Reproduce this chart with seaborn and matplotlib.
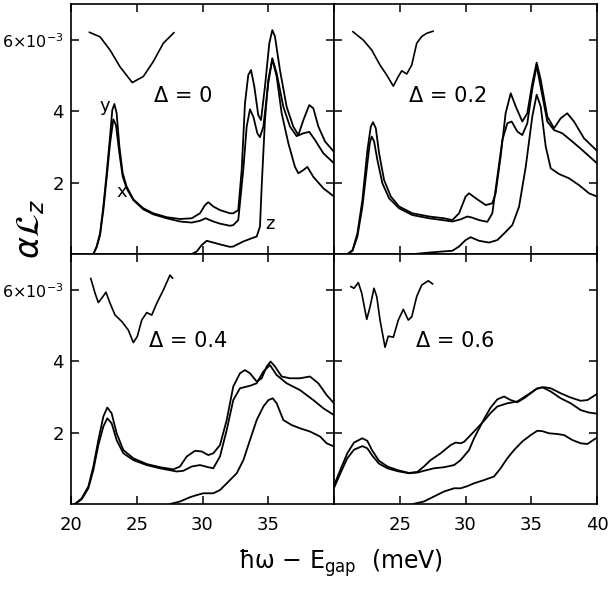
import matplotlib
matplotlib.use("Agg")
import matplotlib.pyplot as plt
import pandas as pd
import seaborn as sns

# absorption curves, alpha*Lz in units of 1e-3, vs hbar*omega - Egap (meV)
# ---- Delta = 0 ----
d0_y_E = [21.70, 21.95, 22.21, 22.46, 22.71, 22.97, 23.14, 23.30, 23.47, 23.68, 23.93, 24.23, 24.74, 25.50,
          26.26, 27.28, 28.29, 29.18, 29.81, 30.19, 30.44, 30.82, 31.33, 32.09, 32.34, 32.72, 32.98, 33.23,
          33.48, 33.69, 33.94, 34.24, 34.45, 34.75, 35.08, 35.31, 35.51, 35.89, 36.40, 36.90, 37.29, 37.67,
          38.12, 38.43, 38.81, 39.32, 40.0]
d0_y_a = [0, 0.21, 0.58, 1.33, 2.26, 3.29, 4.03, 4.20, 3.94, 3.01, 2.26, 1.89, 1.53, 1.28,
          1.14, 1.03, 0.98, 1.00, 1.14, 1.37, 1.45, 1.33, 1.23, 1.14, 1.14, 1.23, 2.35, 4.22,
          5.01, 5.15, 4.69, 3.89, 3.75, 4.69, 5.90, 6.27, 6.09, 5.15, 4.12, 3.57, 3.33, 3.75,
          4.17, 4.08, 3.57, 3.15, 2.86]
d0_x_E = [21.70, 21.95, 22.21, 22.46, 22.71, 22.97, 23.22, 23.42, 23.68, 23.93, 24.23, 24.74, 25.50, 26.26,
          27.28, 28.29, 29.18, 29.81, 30.24, 30.82, 31.33, 32.09, 32.34, 32.72, 33.10, 33.36, 33.61, 33.87,
          34.17, 34.37, 34.63, 35.00, 35.31, 35.64, 36.15, 36.65, 37.16, 37.67, 38.12, 38.56, 39.19, 40.0]
d0_x_a = [0, 0.19, 0.53, 1.23, 2.12, 3.10, 3.77, 3.61, 2.82, 2.17, 1.84, 1.51, 1.25, 1.11,
          1.00, 0.91, 0.88, 0.93, 1.00, 0.91, 0.85, 0.79, 0.81, 0.95, 2.35, 3.57, 4.05, 3.84,
          3.38, 3.27, 3.57, 4.78, 5.48, 5.06, 4.12, 3.57, 3.30, 3.38, 3.42, 3.19, 2.82, 2.54]
d0_z_E = [29.18, 29.56, 29.94, 30.32, 30.82, 31.33, 32.09, 32.34, 33.10, 33.74, 34.12, 34.37, 34.50,
          34.75, 35.00, 35.31, 35.64, 36.02, 36.53, 37.03, 37.29, 37.67, 37.97, 38.43, 39.19, 40.0]
d0_z_a = [0, 0.07, 0.25, 0.37, 0.32, 0.27, 0.20, 0.21, 0.35, 0.44, 0.49, 0.77, 1.89,
          3.75, 4.87, 5.45, 4.97, 3.94, 3.10, 2.44, 2.26, 2.35, 2.44, 2.16, 1.84, 1.61]

# ---- Delta = 0.2 ----
d2_y_E = [21.03, 21.41, 21.78, 22.16, 22.54, 22.80, 22.97, 23.18, 23.43, 23.81, 24.32, 24.95, 25.96, 27.23,
          28.37, 29.00, 29.51, 30.01, 30.27, 30.78, 31.54, 32.04, 32.29, 32.67, 33.05, 33.44, 33.82, 34.32,
          34.70, 35.08, 35.41, 35.72, 36.22, 36.73, 37.24, 37.74, 38.25, 39.01, 40.0]
d2_y_a = [0, 0.11, 0.58, 1.51, 2.91, 3.57, 3.69, 3.52, 2.82, 2.07, 1.61, 1.33, 1.14, 1.05,
          1.00, 0.95, 1.14, 1.61, 1.70, 1.56, 1.37, 1.42, 1.70, 2.72, 3.94, 4.50, 4.13, 3.71,
          3.94, 4.78, 5.36, 4.88, 3.85, 3.52, 3.80, 3.94, 3.71, 3.24, 2.89]
d2_x_E = [21.03, 21.41, 21.78, 22.16, 22.54, 22.72, 22.87, 23.05, 23.30, 23.68, 24.19, 24.95, 25.96, 27.23,
          28.24, 29.00, 29.63, 30.14, 30.50, 31.03, 31.66, 32.04, 32.42, 32.80, 33.18, 33.51, 33.94, 34.32,
          34.70, 35.08, 35.41, 35.72, 36.22, 36.73, 37.36, 38.12, 38.88, 40.0]
d2_x_a = [0, 0.09, 0.49, 1.33, 2.54, 3.10, 3.29, 3.15, 2.63, 1.98, 1.56, 1.28, 1.09, 1.00,
          0.95, 0.91, 0.97, 1.05, 1.02, 0.95, 0.90, 1.14, 2.16, 3.19, 3.66, 3.71, 3.43, 3.33,
          3.66, 4.62, 5.27, 4.67, 3.71, 3.47, 3.38, 3.15, 2.91, 2.54]
d2_z_E = [26.09, 27.23, 28.24, 29.00, 29.51, 30.01, 30.39, 31.03, 31.79, 32.42, 33.06, 33.56, 34.07,
          34.58, 35.08, 35.41, 35.72, 36.10, 36.48, 37.11, 37.87, 38.63, 39.39, 40.0]
d2_z_a = [0, 0.04, 0.07, 0.09, 0.21, 0.39, 0.47, 0.37, 0.32, 0.39, 0.62, 0.81, 1.32,
          2.44, 3.85, 4.46, 4.13, 3.01, 2.40, 2.24, 2.12, 1.93, 1.70, 1.61]

# ---- Delta = 0.4 ----
d4_y_E = [20.30, 20.81, 21.32, 21.70, 22.08, 22.46, 22.76, 23.09, 23.47, 23.98, 24.74, 25.75, 26.77, 27.78,
          28.29, 28.80, 29.43, 29.94, 30.44, 30.82, 31.33, 31.84, 32.34, 32.85, 33.23, 33.61, 34.12, 34.50,
          34.88, 35.18, 35.51, 36.02, 36.65, 37.41, 38.17, 38.81, 39.44, 40.0]
d4_y_a = [0, 0.16, 0.49, 1.05, 1.79, 2.45, 2.70, 2.54, 1.98, 1.51, 1.28, 1.12, 1.03, 0.97,
          1.05, 1.33, 1.49, 1.47, 1.37, 1.42, 1.65, 2.35, 3.29, 3.66, 3.75, 3.66, 3.43, 3.52,
          3.85, 3.99, 3.85, 3.57, 3.52, 3.52, 3.57, 3.38, 3.05, 2.82]
d4_x_E = [20.30, 20.81, 21.32, 21.70, 22.08, 22.46, 22.76, 23.09, 23.47, 23.98, 24.74, 25.75, 26.77, 28.04,
          28.54, 29.18, 29.81, 30.44, 30.82, 31.33, 31.84, 32.34, 32.85, 33.61, 34.12, 34.63, 35.13, 35.64,
          36.40, 37.41, 38.43, 39.19, 40.0]
d4_x_a = [0, 0.13, 0.44, 0.95, 1.65, 2.17, 2.40, 2.26, 1.79, 1.42, 1.23, 1.09, 1.00, 0.91,
          0.93, 1.05, 1.09, 1.03, 1.00, 1.33, 2.07, 2.91, 3.24, 3.31, 3.38, 3.71, 3.89, 3.61,
          3.38, 3.19, 2.91, 2.68, 2.49]
d4_z_E = [27.53, 28.29, 29.05, 29.56, 30.06, 30.82, 31.33, 32.09, 32.60, 33.11, 33.61, 34.12, 34.63,
          35.01, 35.34, 35.64, 36.15, 36.78, 37.41, 38.17, 38.94, 39.44, 40.0]
d4_z_a = [0, 0.07, 0.19, 0.25, 0.30, 0.30, 0.39, 0.67, 0.86, 1.23, 1.79, 2.35, 2.73,
          2.91, 2.96, 2.82, 2.35, 2.21, 2.12, 2.03, 1.89, 1.70, 1.61]

# ---- Delta = 0.6 ----
d6_y_E = [20.0, 20.51, 21.01, 21.52, 22.15, 22.53, 22.92, 23.42, 24.06, 24.82, 25.70, 26.34, 26.84, 27.35,
          28.11, 28.87, 29.25, 29.63, 29.89, 30.65, 31.41, 31.91, 32.42, 33.18, 33.94, 34.70, 35.34, 35.84,
          36.48, 37.24, 38.0, 38.76, 39.39, 40.0]
d6_y_a = [0.52, 0.98, 1.42, 1.72, 1.84, 1.77, 1.49, 1.21, 1.05, 0.95, 0.87, 0.90, 1.05, 1.23,
          1.42, 1.65, 1.72, 1.70, 1.74, 2.03, 2.33, 2.55, 2.73, 2.82, 2.87, 3.05, 3.21, 3.27,
          3.15, 2.96, 2.82, 2.63, 2.56, 2.53]
d6_x_E = [20.0, 20.51, 21.01, 21.52, 22.15, 22.53, 22.92, 23.42, 24.06, 24.82, 25.70, 26.34, 26.84, 27.60,
          28.37, 29.13, 29.63, 30.27, 30.65, 31.41, 31.91, 32.42, 32.93, 33.44, 33.94, 34.45, 34.96, 35.46,
          35.97, 36.48, 37.24, 38.0, 38.76, 39.27, 40.0]
d6_x_a = [0.45, 0.88, 1.28, 1.52, 1.62, 1.56, 1.35, 1.13, 1.00, 0.92, 0.86, 0.88, 0.93, 1.00,
          1.03, 1.09, 1.23, 1.51, 1.84, 2.38, 2.70, 2.93, 3.01, 2.91, 2.85, 2.96, 3.10, 3.24,
          3.27, 3.24, 3.10, 2.98, 2.89, 2.91, 3.08]
d6_z_E = [26.0, 26.84, 27.60, 28.37, 29.13, 29.63, 30.14, 30.65, 31.41, 32.17, 32.67, 33.18, 33.69,
          34.32, 34.96, 35.46, 35.84, 36.35, 36.98, 37.49, 38.13, 38.76, 39.27, 40.0]
d6_z_a = [0, 0.07, 0.21, 0.35, 0.44, 0.44, 0.50, 0.58, 0.67, 0.77, 1.00, 1.28, 1.51,
          1.75, 1.93, 2.05, 2.04, 1.98, 1.96, 1.93, 1.79, 1.70, 1.68, 1.86]

# small potential-profile sketches drawn in the upper left of each panel
w0_E = [21.39, 22.21, 22.97, 23.73, 24.66, 25.50, 26.26, 27.02, 27.83]
w0_a = [6.21, 6.08, 5.71, 5.24, 4.80, 4.97, 5.39, 5.90, 6.20]
w2_E = [21.42, 22.23, 22.87, 23.50, 24.01, 24.51, 24.89, 25.15, 25.53, 25.91, 26.29, 26.67, 27.05, 27.55]
w2_a = [6.23, 5.99, 5.71, 5.29, 5.01, 4.70, 4.97, 5.13, 5.04, 5.29, 5.90, 6.09, 6.18, 6.24]
w4_E = [21.50, 21.83, 22.08, 22.33, 22.66, 22.97, 23.35, 23.86, 24.36, 24.74, 25.04, 25.38, 25.76, 26.14,
        26.52, 27.02, 27.53, 27.73]
w4_a = [6.32, 5.90, 5.64, 5.76, 5.93, 5.62, 5.29, 5.11, 4.87, 4.52, 4.69, 5.15, 5.36, 5.29,
        5.62, 5.99, 6.41, 6.32]
w6_E = [21.27, 21.52, 21.85, 22.11, 22.49, 22.74, 23.04, 23.25, 23.50, 23.88, 24.13, 24.51, 24.89, 25.27,
        25.65, 25.91, 26.29, 26.67, 27.17, 27.51]
w6_a = [6.09, 6.04, 6.20, 5.90, 5.17, 5.52, 6.04, 5.81, 5.15, 4.39, 4.70, 4.67, 5.15, 5.45,
        5.15, 5.24, 5.81, 6.13, 6.25, 6.16]

deltas = ["0", "0.2", "0.4", "0.6"]
y_ticks = [2, 4, 6]
y_ticklabels = ["2", "4", "6×10$^{-3}$"]
x_ticks = [20, 25, 30, 35, 40]


def make_df(yE, ya, xE, xa, zE, za):
    parts = []
    for name, E, a in [("y", yE, ya), ("x", xE, xa), ("z", zE, za)]:
        parts.append(pd.DataFrame({"E": E, "a": a, "pol": name}))
    return pd.concat(parts, ignore_index=True)


panels = [
    (make_df(d0_y_E, d0_y_a, d0_x_E, d0_x_a, d0_z_E, d0_z_a), w0_E, w0_a),
    (make_df(d2_y_E, d2_y_a, d2_x_E, d2_x_a, d2_z_E, d2_z_a), w2_E, w2_a),
    (make_df(d4_y_E, d4_y_a, d4_x_E, d4_x_a, d4_z_E, d4_z_a), w4_E, w4_a),
    (make_df(d6_y_E, d6_y_a, d6_x_E, d6_x_a, d6_z_E, d6_z_a), w6_E, w6_a),
]

sns.set_style("ticks")
plt.rcParams["font.family"] = ["DejaVu Sans"]
plt.rcParams["mathtext.fontset"] = "dejavusans"
plt.rcParams["text.color"] = "black"
plt.rcParams["xtick.color"] = "black"
plt.rcParams["ytick.color"] = "black"

W, H = 616, 590
fig = plt.figure(figsize=(W / 100, H / 100), dpi=100)

# panel corners in pixels (left, top)
corners = [(71, 4), (334, 4), (71, 254), (334, 254)]
pw, ph = 263, 250
label_xy = [(28.5, 4.43), (28.7, 4.43), (28.9, 4.57), (29.2, 4.57)]

for i, (df, wE, wa) in enumerate(panels):
    left, top = corners[i]
    ax = fig.add_axes([left / W, 1 - (top + ph) / H, pw / W, ph / H])
    sns.lineplot(data=df, x="E", y="a", units="pol", estimator=None, sort=False,
                 color="black", lw=1.3, ax=ax, legend=False)
    sns.lineplot(x=wE, y=wa, estimator=None, sort=False, color="black", lw=1.2, ax=ax)

    ax.set_xlim(20, 40)
    ax.set_ylim(0, 7.0)
    ax.set_xlabel("")
    ax.set_ylabel("")
    for sp in ax.spines.values():
        sp.set_visible(True)
        sp.set_linewidth(1.2)
        sp.set_color("black")

    ax.tick_params(direction="in", length=6, width=1.1, top=True, right=True,
                   labelsize=13, colors="black")
    ax.tick_params(axis="x", pad=9)
    ax.tick_params(axis="y", pad=5)

    ax.set_xticks(x_ticks)
    if i == 2:
        ax.set_xticklabels(["20", "25", "30", "35", ""])
    elif i == 3:
        ax.set_xticklabels(["", "25", "30", "35", "40"])
    else:
        ax.set_xticklabels([])

    ax.set_yticks(y_ticks)
    if i in (0, 2):
        ax.set_yticklabels(y_ticklabels)
        ax.get_yticklabels()[2].set_fontsize(11.5)
    else:
        ax.set_yticklabels([])

    lx, ly = label_xy[i]
    ax.text(lx, ly, "\u0394 = " + deltas[i], fontsize=15, ha="center", va="center")

    if i == 0:
        ax.text(22.6, 4.15, "y", fontsize=13, ha="center", va="center")
        ax.text(23.9, 1.74, "x", fontsize=13, ha="center", va="center")
        ax.text(35.1, 0.84, "z", fontsize=13, ha="center", va="center")

fig.text(0.049, 0.612, r"$\alpha\mathcal{L}_z$", fontsize=24, rotation=90,
         ha="center", va="center")
fig.text(0.553, 0.045, "ħω − E$_{\\mathrm{gap}}$  (meV)", fontsize=17,
         ha="center", va="center")

fig.savefig("out.png", dpi=100)
